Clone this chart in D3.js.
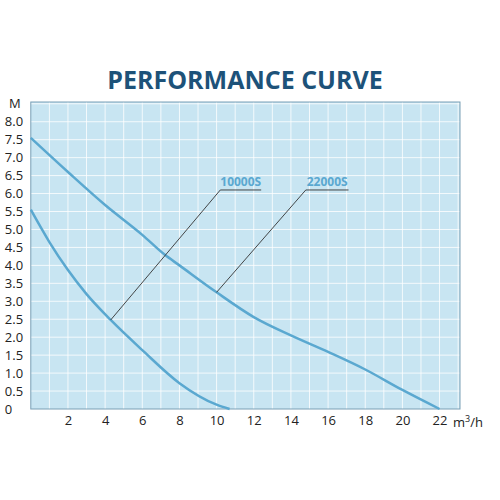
<!DOCTYPE html><html><head><script src="https://cdn.jsdelivr.net/npm/d3@7"></script>
<style>body{margin:0;background:#fff}text{font-family:"Open Sans",sans-serif}</style></head><body><svg id="c" width="500" height="500"></svg>
<script>
const xTicks=[2,4,6,8,10,12,14,16,18,20,22];
const yTicks=[0,0.5,1,1.5,2,2.5,3,3.5,4,4.5,5,5.5,6,6.5,7,7.5,8];
const s22x=[0,2,4,6,7.2,8,10,12,14,16,18,20,22];
const s22y=[7.55,6.6,5.68,4.85,4.3,4.0,3.25,2.56,2.05,1.59,1.1,0.53,0];
const s10x=[0,1,2,3,4.3,6,8,10,10.7];
const s10y=[5.55,4.65,3.87,3.2,2.48,1.64,0.72,0.12,0];
const labels=["10000S","22000S"];
const anchorX=[4.3,10],anchorY=[2.48,3.25],elbowX=[10.2,14.8],elbowY=[6.1,6.1],endX=[12.4,17.1];
const svg=d3.select("#c");
const x=d3.scaleLinear().domain([0,23.1]).range([30.8,460]);
const y=d3.scaleLinear().domain([0,8.55]).range([409,102]);
svg.append("text").attr("x",245).attr("y",89).attr("text-anchor","middle").attr("font-size",25).attr("font-weight","bold").attr("fill","#1d5279").text("PERFORMANCE CURVE");
svg.append("rect").attr("x",x(0)).attr("y",y(8.55)).attr("width",x(23.1)-x(0)).attr("height",y(0)-y(8.55)).attr("fill","#c8e5f2");
const g=svg.append("g");
g.selectAll(".vx").data(d3.range(1,24)).join("line").attr("x1",d=>x(d)).attr("x2",d=>x(d)).attr("y1",y(0)).attr("y2",y(8.55)).attr("stroke","#fff").attr("stroke-width",1).attr("opacity",0.8);
g.selectAll(".hy").data(d3.range(0.5,8.6,0.5)).join("line").attr("y1",d=>y(d)).attr("y2",d=>y(d)).attr("x1",x(0)).attr("x2",x(23.1)).attr("stroke","#fff").attr("stroke-width",1).attr("opacity",0.8);
svg.append("rect").attr("x",x(0)).attr("y",y(8.55)).attr("width",x(23.1)-x(0)).attr("height",y(0)-y(8.55)).attr("fill","none").attr("stroke","#7a9fb5").attr("stroke-width",1);
const line=d3.line().x(d=>x(d[0])).y(d=>y(d[1])).curve(d3.curveMonotoneX);
[[s22x,s22y],[s10x,s10y]].forEach(([a,b])=>svg.append("path").attr("d",line(a.map((v,i)=>[v,b[i]]))).attr("fill","none").attr("stroke","#5aa8d0").attr("stroke-width",2.5));
labels.forEach((l,i)=>{
 svg.append("polyline").attr("points",[[x(anchorX[i]),y(anchorY[i])],[x(elbowX[i]),y(elbowY[i])],[x(endX[i]),y(elbowY[i])]].map(p=>p.join(",")).join(" ")).attr("fill","none").attr("stroke","#333").attr("stroke-width",0.9);
 svg.append("text").attr("x",(x(elbowX[i])+x(endX[i]))/2).attr("y",y(elbowY[i])-4).attr("text-anchor","middle").attr("font-size",12).attr("font-weight","bold").attr("fill","#5aa8d0").text(l);
});
const xa=svg.append("g").attr("transform",`translate(0,${y(0)})`).call(d3.axisBottom(x).tickValues(xTicks).tickSize(0).tickPadding(7));
xa.select(".domain").remove();xa.selectAll("text").attr("font-size",13).attr("fill","#222").attr("font-family","Open Sans");
const ya=svg.append("g").attr("transform",`translate(${x(0)},0)`).call(d3.axisLeft(y).tickValues(yTicks).tickFormat(d3.format(".1f")).tickSize(0).tickPadding(4));
ya.select(".domain").remove();ya.selectAll("text").attr("font-size",13).attr("fill","#222").attr("font-family","Open Sans").attr("text-anchor","start").attr("x",-26);
ya.selectAll(".tick").filter(d=>d===0).select("text").text("0");
svg.append("text").attr("x",9).attr("y",108).attr("font-size",13).attr("fill","#222").text("M");
svg.append("text").attr("x",453).attr("y",427).attr("font-size",13).attr("fill","#222").html('m<tspan dy="-5" font-size="9">3</tspan><tspan dy="5">/h</tspan>');
</script></body></html>
